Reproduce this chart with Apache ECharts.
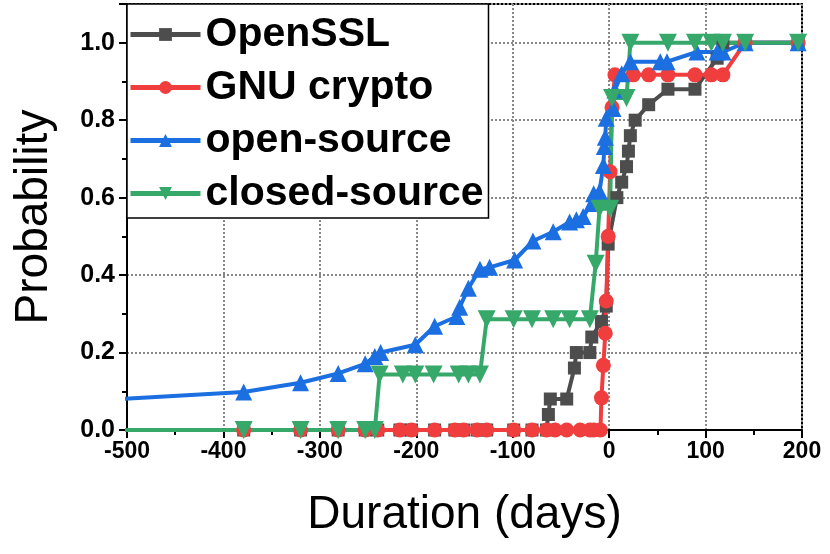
<!doctype html>
<html>
    <head>
        <meta charset="utf-8">
        <title>Duration CDF</title>
        <style>
            html, body { margin: 0; padding: 0; background: #fff; }
            #main { width: 830px; height: 554px; }
        </style>
    </head>
    <body>
        <div id="main"></div>
        <script src="https://cdn.jsdelivr.net/npm/echarts@6/dist/echarts.min.js"></script>
        <script>
            var opensslDays = [-560, -379, -320, -281, -253, -240, -217, -205, -181, -160, -151, -137, -127, -99, -80, -65,
                -63, -61, -44, -36, -34, -20, -18, -8, -3, -1, 8, 13, 18, 20, 22, 27, 41, 61, 89, 112, 118, 141, 196];
            var opensslProb = [0, 0, 0, 0, 0, 0, 0, 0, 0, 0, 0, 0, 0, 0, 0, 0,
                0.04, 0.08, 0.08, 0.16, 0.2, 0.2, 0.24, 0.28, 0.32, 0.48, 0.6, 0.64, 0.68, 0.72, 0.76, 0.8, 0.84, 0.88, 0.88, 0.96, 1, 1, 1];

            var gnuDays = [-560, -379, -320, -281, -253, -240, -217, -205, -181, -160, -151, -137, -127, -99, -80, -65,
                -56, -44, -30, -20, -16, -9, -8, -6, -4, -3, -1, 1, 3, 6, 25, 41, 61, 89, 106, 118, 141, 196];
            var gnuProb = [0, 0, 0, 0, 0, 0, 0, 0, 0, 0, 0, 0, 0, 0, 0, 0,
                0, 0, 0, 0, 0, 0, 0.083, 0.167, 0.25, 0.333, 0.5, 0.667, 0.833, 0.917, 0.917, 0.917, 0.917, 0.917, 0.917, 0.917, 1, 1];

            var openDays = [-560, -379, -320, -281, -253, -243, -237, -201, -181, -158, -155, -146, -134, -124, -98, -79,
                -58, -41, -34, -27, -18, -16, -10, -6, -5, -4, -3, 4, 6, 13, 22, 53, 60, 91, 112, 118, 141, 196];
            var openProb = [0.073, 0.098, 0.122, 0.146, 0.171, 0.19, 0.2, 0.22, 0.268, 0.293, 0.317, 0.366, 0.415, 0.42, 0.439, 0.488,
                0.512, 0.537, 0.543, 0.551, 0.585, 0.61, 0.616, 0.683, 0.732, 0.756, 0.805, 0.83, 0.878, 0.92, 0.951, 0.951, 0.951, 0.976, 0.976, 0.976, 1, 1];

            var closedDays = [-560, -379, -320, -281, -253, -243, -238, -214, -201, -182, -156, -146, -134,
                -127, -99, -80, -58, -41, -20, -14, -10, 1, 3, 18, 22, 61, 89, 106, 118, 141, 196];
            var closedProb = [0, 0, 0, 0, 0, 0, 0.143, 0.143, 0.143, 0.143, 0.143, 0.143, 0.143,
                0.286, 0.286, 0.286, 0.286, 0.286, 0.286, 0.429, 0.571, 0.571, 0.857, 0.857, 1, 1, 1, 1, 1, 1, 1];

            function pairs(xs, ys) {
                return xs.map(function (x, i) { return [x, ys[i]]; });
            }

            var font = '"Liberation Sans", Arial, sans-serif';

            function line(name, color, symbol, size, xs, ys, rotate) {
                return {
                    name: name,
                    type: 'line',
                    data: pairs(xs, ys),
                    symbol: symbol,
                    symbolSize: size,
                    symbolRotate: rotate || 0,
                    showAllSymbol: true,
                    lineStyle: { color: color, width: 4 },
                    itemStyle: { color: color }
                };
            }

            var chart = echarts.init(document.getElementById('main'));

            chart.setOption({
                animation: false,
                grid: {
                    left: 127,
                    right: 28,
                    top: 4,
                    bottom: 124,
                    show: true,
                    borderColor: '#000',
                    borderWidth: 2
                },
                legend: {
                    orient: 'vertical',
                    left: 127,
                    top: 4,
                    padding: [10, 5, 4, 1],
                    itemGap: 12,
                    itemWidth: 70,
                    itemHeight: 16,
                    backgroundColor: '#fff',
                    borderColor: '#000',
                    borderWidth: 1.5,
                    lineStyle: { width: 5 },
                    textStyle: { fontSize: 41, fontWeight: 'bold', fontFamily: font, color: '#000' }
                },
                xAxis: {
                    type: 'value',
                    min: -500,
                    max: 200,
                    interval: 100,
                    name: 'Duration (days)',
                    nameLocation: 'middle',
                    nameGap: 62,
                    nameTextStyle: { fontSize: 46, fontFamily: font, color: '#000' },
                    axisLine: { onZero: false, lineStyle: { color: '#000', width: 2 } },
                    axisTick: { show: true, inside: false, length: 8, lineStyle: { color: '#000', width: 2 } },
                    minorTick: { show: true, splitNumber: 2, length: 5, lineStyle: { color: '#000', width: 2 } },
                    axisLabel: { fontSize: 23, fontWeight: 'bold', fontFamily: font, color: '#000', margin: 10 },
                    splitLine: { show: true, lineStyle: { color: '#888', width: 2, type: [2, 2] } }
                },
                yAxis: {
                    type: 'value',
                    min: 0,
                    max: 1.1,
                    interval: 0.2,
                    name: 'Probability',
                    nameLocation: 'middle',
                    nameGap: 70,
                    nameTextStyle: { fontSize: 46, fontFamily: font, color: '#000' },
                    axisLine: { show: true, onZero: false, lineStyle: { color: '#000', width: 2 } },
                    axisTick: { show: true, inside: false, length: 8, lineStyle: { color: '#000', width: 2 } },
                    minorTick: { show: true, splitNumber: 2, length: 5, lineStyle: { color: '#000', width: 2 } },
                    axisLabel: {
                        fontSize: 25, fontWeight: 'bold', fontFamily: font, color: '#000', margin: 12,
                        formatter: function (v) { return v > 1.05 ? '' : v.toFixed(1); }
                    },
                    splitLine: { show: true, lineStyle: { color: '#888', width: 2, type: [2, 2] } }
                },
                series: [
                    line('OpenSSL', '#4d4d4d', 'rect', 13, opensslDays, opensslProb),
                    line('GNU crypto', '#f03e3e', 'circle', 15, gnuDays, gnuProb),
                    line('open-source', '#1b6fe0', 'triangle', 17, openDays, openProb),
                    line('closed-source', '#36a86a', 'triangle', 18, closedDays, closedProb, 180)
                ]
            });

            window.addEventListener('resize', function () {
                chart.resize();
            });
        </script>
    </body>
</html>
